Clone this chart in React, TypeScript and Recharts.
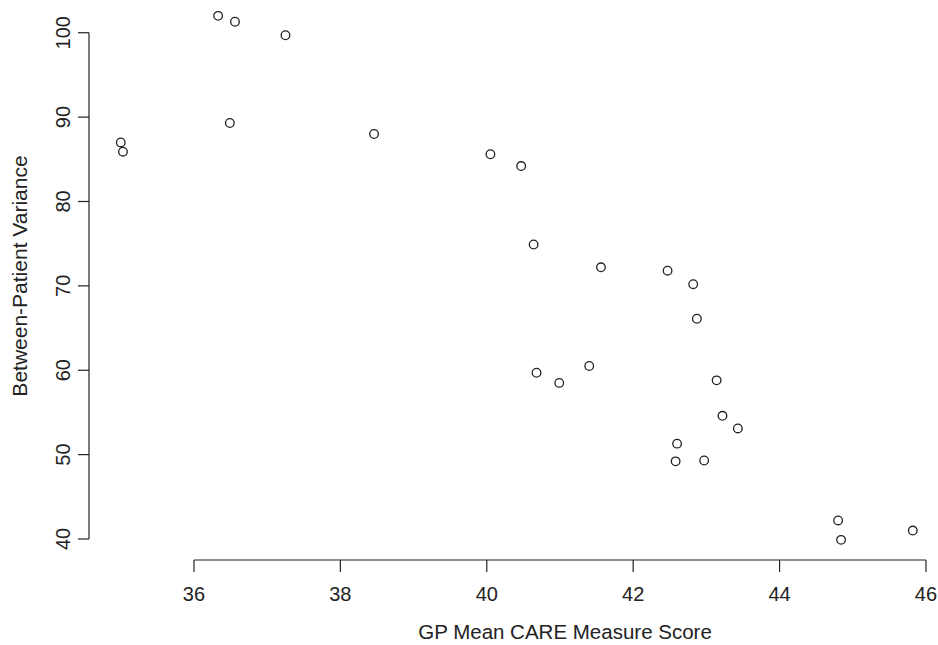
import React from "react";
import { ScatterChart, Scatter, XAxis, YAxis, ReferenceLine } from "recharts";

// GP mean CARE measure score vs between-patient variance, one point per GP
const gpScore = [
  36.33, 36.56, 37.25, 35.0, 35.03, 36.49, 38.46, 40.05, 40.47, 40.64, 41.56, 42.47, 42.82,
  42.87, 40.68, 40.99, 41.4, 43.14, 43.22, 43.43, 42.6, 42.58, 42.97, 44.8, 44.84, 45.82,
];
const patientVariance = [
  102.0, 101.3, 99.7, 87.0, 85.9, 89.3, 88.0, 85.6, 84.2, 74.9, 72.2, 71.8, 70.2,
  66.1, 59.7, 58.5, 60.5, 58.8, 54.6, 53.1, 51.3, 49.2, 49.3, 42.2, 39.9, 41.0,
];
const xTicks = [36, 38, 40, 42, 44, 46];
const yTicks = [40, 50, 60, 70, 80, 90, 100];

const xDomain: [number, number] = [34.566, 46.096];
const yDomain: [number, number] = [37.51, 103.88];

const font = "'Liberation Sans', Arial, Helvetica, sans-serif";
const ink = "#222";

const data = gpScore.map((x, i) => ({ x, y: patientVariance[i] }));

const OpenCircle = (props: any) => (
  <circle cx={props.cx} cy={props.cy} r={4.3} fill="none" stroke={ink} strokeWidth={1.3} />
);

const RotatedTick = (props: any) => {
  const { x, y, payload } = props;
  return (
    <text
      x={x}
      y={y}
      transform={`rotate(-90, ${x}, ${y})`}
      textAnchor="middle"
      fontFamily={font}
      fontSize={20}
      fill={ink}
    >
      {payload.value}
    </text>
  );
};

export default function App() {
  return (
    <div style={{ position: "absolute", left: 0, top: 0, background: "#fff" }}>
      <ScatterChart width={938} height={645} margin={{ top: 0, right: 5, bottom: 0, left: 0 }}>
        <XAxis
          type="number"
          dataKey="x"
          domain={xDomain}
          ticks={xTicks}
          height={85}
          axisLine={false}
          tickSize={12}
          tickMargin={15}
          tickLine={{ stroke: ink, strokeWidth: 1.2 }}
          tick={{ fill: ink, fontSize: 20, fontFamily: font }}
          label={{
            content: () => (
              <text x={565} y={639} textAnchor="middle" fontFamily={font} fontSize={20.5} fill={ink}>
                GP Mean CARE Measure Score
              </text>
            ),
          }}
        />
        <YAxis
          type="number"
          dataKey="y"
          domain={yDomain}
          ticks={yTicks}
          width={89}
          axisLine={false}
          tickSize={11}
          tickMargin={8}
          tickLine={{ stroke: ink, strokeWidth: 1.2 }}
          tick={RotatedTick}
          label={{
            content: () => (
              <text
                x={27}
                y={276}
                transform="rotate(-90, 27, 276)"
                textAnchor="middle"
                fontFamily={font}
                fontSize={21}
                fill={ink}
              >
                Between-Patient Variance
              </text>
            ),
          }}
        />
        <ReferenceLine
          segment={[
            { x: 36, y: yDomain[0] },
            { x: 46, y: yDomain[0] },
          ]}
          stroke={ink}
          strokeWidth={1.2}
          ifOverflow="visible"
        />
        <ReferenceLine
          segment={[
            { x: xDomain[0], y: 40 },
            { x: xDomain[0], y: 100 },
          ]}
          stroke={ink}
          strokeWidth={1.2}
          ifOverflow="visible"
        />
        <Scatter data={data} shape={OpenCircle} isAnimationActive={false} />
      </ScatterChart>
    </div>
  );
}
